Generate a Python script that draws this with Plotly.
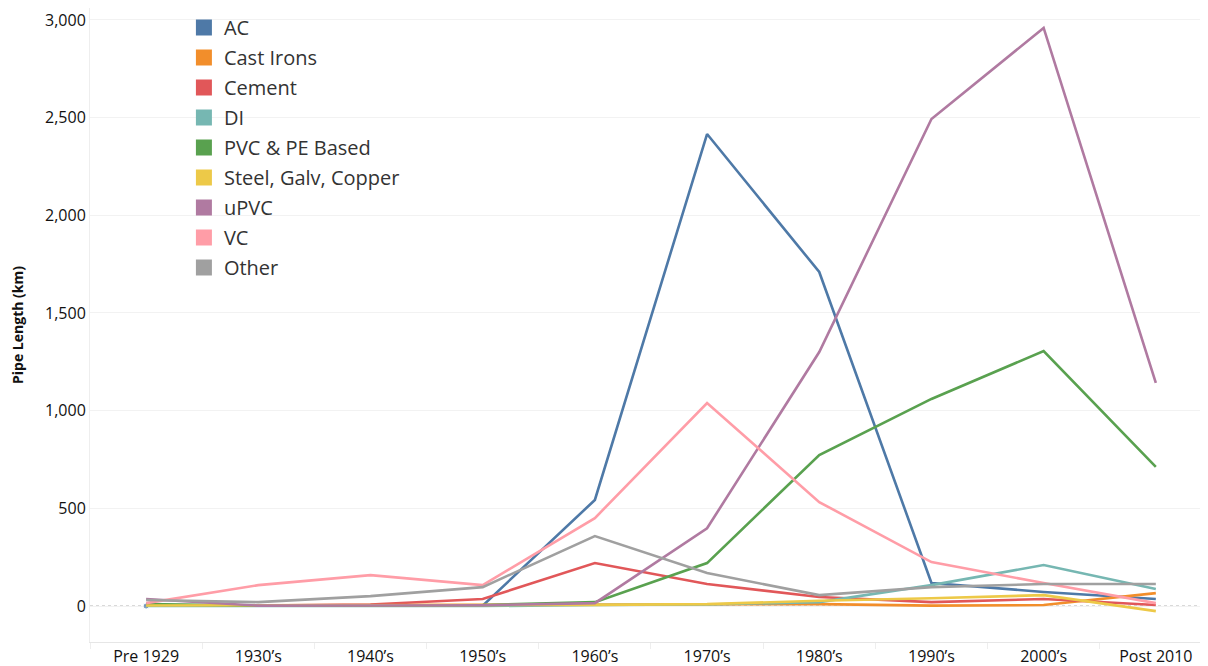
import plotly.graph_objects as go

# decades on the x axis
decades = ["Pre 1929", "1930’s", "1940’s", "1950’s", "1960’s",
           "1970’s", "1980’s", "1990’s", "2000’s", "Post 2010"]

# pipe length (km) per material
ac = [0, None, 2, 2, 543, 2416, 1710, 118, 72, 36]
cast_irons = [2, 3, 4, 4, 5, 8, 10, 2, 5, 66]
cement = [2, 3, 8, 36, 220, 113, 46, 20, 36, 5]
di = [0, 0, 0, 0, 5, 8, 20, 107, 210, 87]
pvc_pe = [10, 2, 3, 5, 20, 220, 773, 1060, 1305, 712]
steel = [3, 3, 4, 5, 6, 10, 27, 40, 56, -26]
upvc = [36, 2, 3, 4, 15, 398, 1300, 2493, 2959, 1142]
vc = [15, 107, 158, 107, 450, 1039, 532, 225, 118, 15]
other = [31, 20, 51, 97, 358, 169, 56, 97, 113, 113]

series = [
    ("AC", ac, "#4e79a7"),
    ("Cast Irons", cast_irons, "#f28e2b"),
    ("Cement", cement, "#e15759"),
    ("DI", di, "#76b7b2"),
    ("PVC & PE Based", pvc_pe, "#59a14f"),
    ("Steel, Galv, Copper", steel, "#edc948"),
    ("uPVC", upvc, "#b07aa1"),
    ("VC", vc, "#ff9da7"),
    ("Other", other, "#a0a0a0"),
]

fig = go.Figure()

# lines (no legend entries; legend uses square swatches below)
for name, vals, col in series:
    # isolated points get a dot, like Tableau draws them
    sizes = [6 if (v is not None and (i == 0 or vals[i - 1] is None)
                   and (i == len(vals) - 1 or vals[i + 1] is None)) else 0
             for i, v in enumerate(vals)]
    fig.add_trace(go.Scatter(x=decades, y=vals, name=name, mode="lines+markers",
                             line=dict(color=col, width=2.6),
                             marker=dict(size=sizes, color=col),
                             showlegend=False, connectgaps=False))

# legend swatches
for name, vals, col in series:
    fig.add_trace(go.Scatter(x=[None], y=[None], name=name, mode="markers",
                             marker=dict(symbol="square", size=16, color=col),
                             legendgroup=name, showlegend=True))

fig.update_layout(
    width=1200, height=658,
    margin=dict(l=82, r=0, t=0, b=24),
    plot_bgcolor="white", paper_bgcolor="white",
    font=dict(family="Open Sans, sans-serif", color="#333333"),
    legend=dict(x=0.084, y=1.0, xanchor="left", yanchor="top",
                font=dict(size=20, color="#333333"),
                bgcolor="rgba(0,0,0,0)", tracegroupgap=1),
    showlegend=True,
)

fig.update_xaxes(type="category", range=[-0.5, 9.465],
                 showgrid=False, showline=True, linecolor="#e6e6e6",
                 ticks="outside", tickson="boundaries", ticklen=6,
                 tickcolor="#eeeeee",
                 tickfont=dict(size=16, color="#111111"))

fig.update_yaxes(range=[-184, 3061], tickvals=[0, 500, 1000, 1500, 2000, 2500, 3000],
                 tickformat=",", showgrid=True, gridcolor="#f2f2f2",
                 showline=True, linecolor="#eeeeee",
                 zeroline=False,
                 tickfont=dict(size=16, color="#111111"),
                 title=dict(text="<b>Pipe Length (km)</b>", font=dict(size=14, color="#111111"),
                            standoff=18))

# dotted zero line
fig.add_shape(type="line", xref="paper", yref="y", x0=0, x1=1, y0=0, y1=0,
              line=dict(color="#aaaaaa", width=1, dash="dot"), layer="below")

fig.write_html("out.html")
